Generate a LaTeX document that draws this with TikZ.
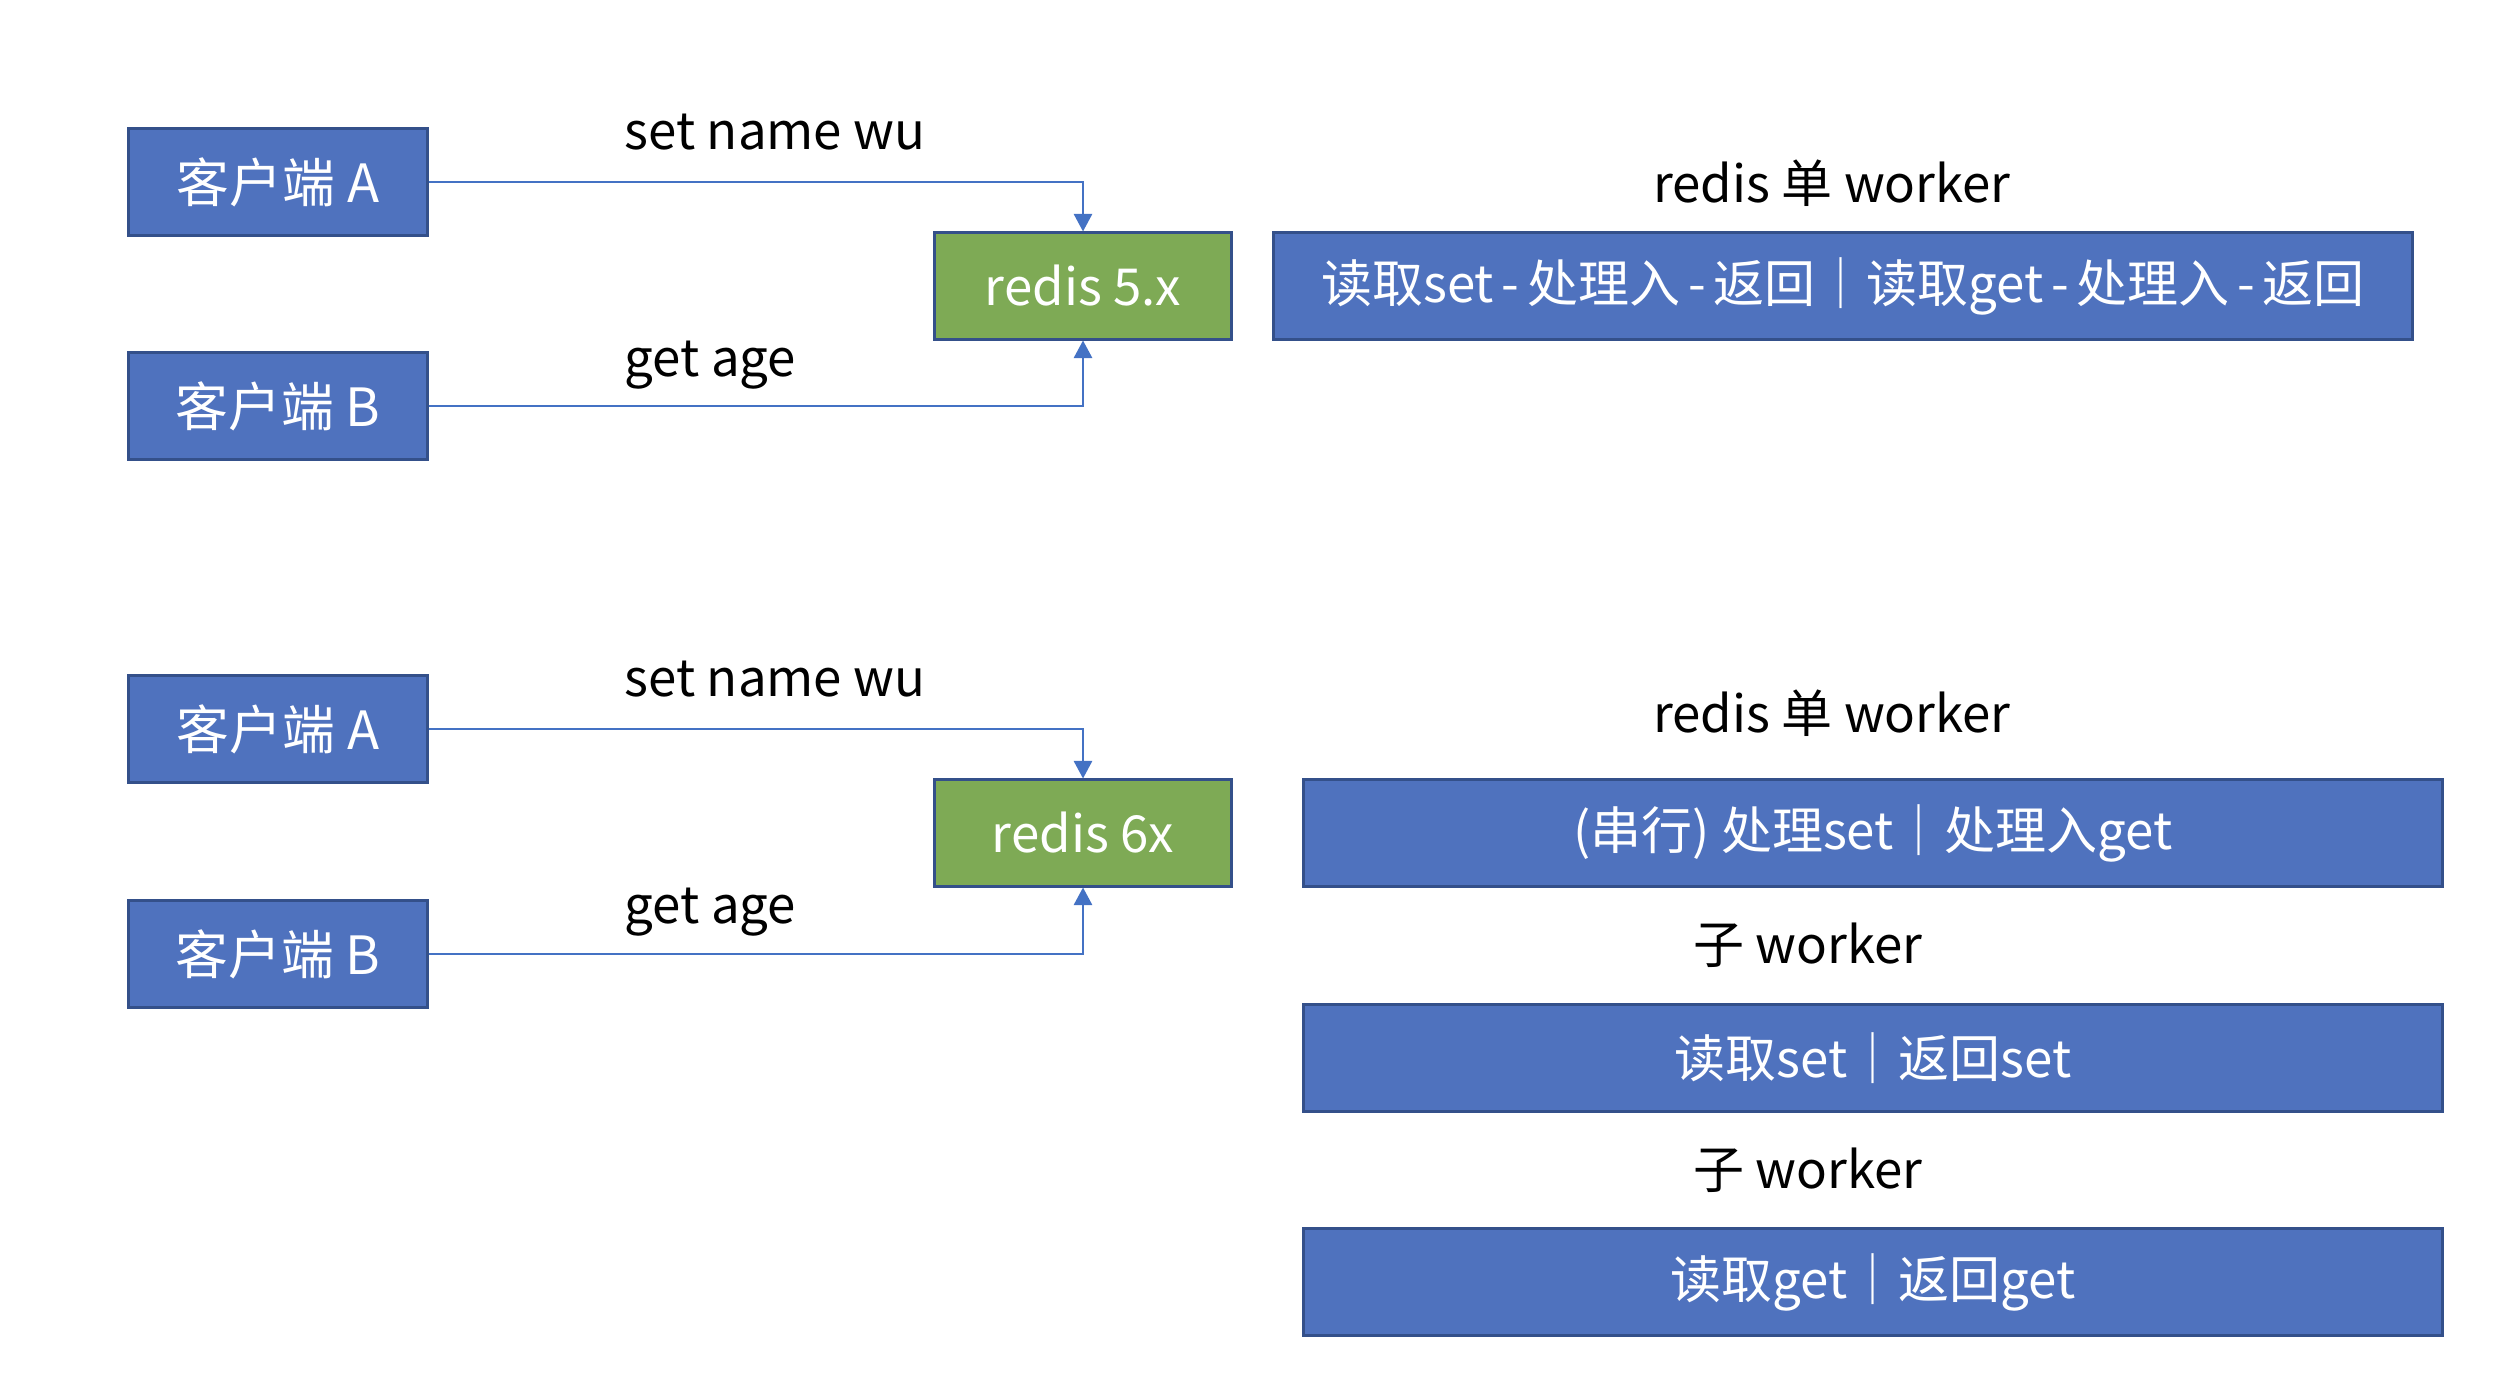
\documentclass[tikz,border=0pt]{standalone}
\usepackage{fontspec}
\setmainfont{Noto Sans CJK SC}
\usetikzlibrary{arrows.meta}
\definecolor{boxblue}{RGB}{79,114,190}
\definecolor{boxgreen}{RGB}{126,170,85}
\definecolor{edgeblue}{RGB}{52,80,138}
\definecolor{linkblue}{RGB}{68,114,196}
\newcommand{\hy}{\hspace{2.2pt}-\hspace{2.2pt}}
\begin{document}
\begin{tikzpicture}[x=0.01cm,y=-0.01cm,
  base/.style={draw=edgeblue,line width=0.85pt,inner sep=0pt,text=white,
    font=\fontsize{14.5}{17}\selectfont,minimum height=1.06cm},
  client/.style={base,fill=boxblue,minimum width=2.98cm,font=\fontsize{15}{17}\selectfont},
  server/.style={base,fill=boxgreen,minimum width=2.97cm},
  worker/.style={base,fill=boxblue},
  lbl/.style={inner sep=0pt,font=\fontsize{14.5}{17}\selectfont},
  link/.style={draw=linkblue,line width=0.6pt,-{Triangle[width=5.2pt,length=5pt]}}]
\useasboundingbox (0,0) rectangle (2500,1392);
% top half
\node[client] (a1) at (278,182) {客户端 A};
\node[client] (b1) at (278,406) {客户端 B};
\node[server] (r1) at (1083,286) {redis 5.x};
\node[worker,minimum width=11.38cm] (w1) at (1843,286) {读取set\hy 处理入\hy 返回｜读取get\hy 处理入\hy 返回};
\node[lbl,anchor=west] (s1) at (624,132) {set name wu};
\node[lbl,anchor=west] (g1) at (624,365) {get age};
\node[lbl] (t1) at (1832,183) {redis 单 worker};
\draw[link] (a1.east) -| (r1.north);
\draw[link] (b1.east) -| (r1.south);
% bottom half
\node[client] (a2) at (278,729) {客户端 A};
\node[client] (b2) at (278,954) {客户端 B};
\node[server] (r2) at (1083,833) {redis 6x};
\node[worker,minimum width=11.39cm] (w2) at (1873,833) {(串行) 处理set｜处理入get};
\node[worker,minimum width=11.39cm] (w3) at (1873,1058) {读取set｜返回set};
\node[worker,minimum width=11.39cm] (w4) at (1873,1282) {读取get｜返回get};
\node[lbl,anchor=west] (s2) at (624,679) {set name wu};
\node[lbl,anchor=west] (g2) at (624,912) {get age};
\node[lbl] (t2) at (1832,713) {redis 单 worker};
\node[lbl] (c1) at (1808,945) {子 worker};
\node[lbl] (c2) at (1808,1170) {子 worker};
\draw[link] (a2.east) -| (r2.north);
\draw[link] (b2.east) -| (r2.south);
\end{tikzpicture}
\end{document}
